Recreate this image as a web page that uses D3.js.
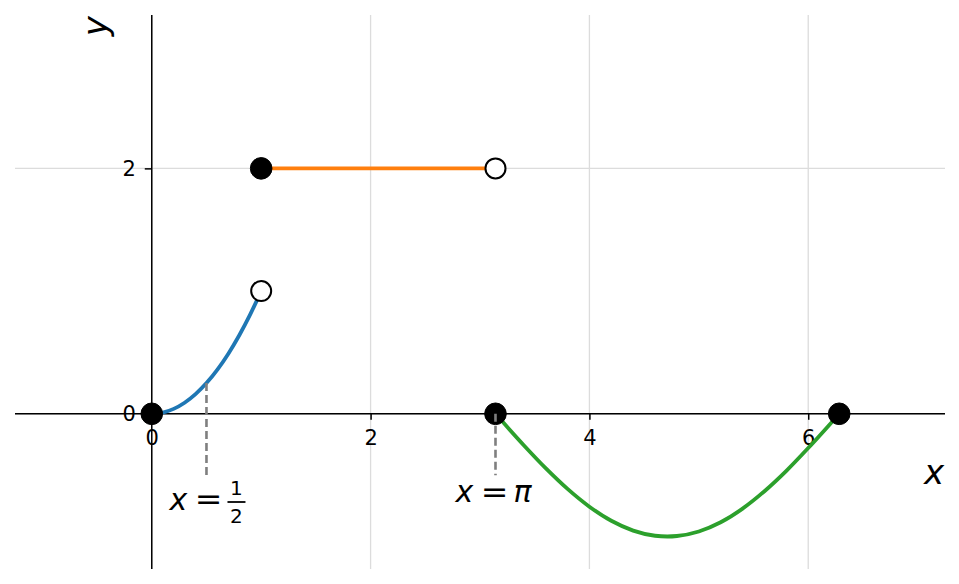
<!DOCTYPE html>
<html>
<head>
<meta charset="utf-8">
<script src="https://cdn.jsdelivr.net/npm/d3@7"></script>
<style>
  html, body { margin: 0; padding: 0; background: #fff; }
  svg { display: block; font-family: "DejaVu Sans", sans-serif; }
  .tick text { font-size: 21px; font-family: "DejaVu Sans", sans-serif; fill: #000; }
</style>
</head>
<body>
<svg id="chart" width="959" height="584"></svg>
<script>
// ---- data ----
const xTicks = [0, 2, 4, 6];
const yTicks = [0, 2];
const xDomain = [-1.25, 7.25];
const yDomain = [-1.265, 3.25];

// piece 1 (blue)
const blueX = [0, 0.1, 0.2, 0.3, 0.4, 0.5, 0.6, 0.7, 0.8, 0.9, 1.0];
const blueY = [0, 0.01, 0.04, 0.09, 0.16, 0.25, 0.36, 0.49, 0.64, 0.81, 1.0];
// piece 2 (orange)
const orangeX = [1, 3.1416];
const orangeY = [2, 2];
// piece 3 (green)
const greenX = [3.1416, 3.4, 3.6, 3.8, 4.0, 4.2, 4.4, 4.6, 4.712, 4.8, 5.0, 5.2, 5.4, 5.6, 5.8, 6.0, 6.2832];
const greenY = [0, -0.256, -0.443, -0.612, -0.757, -0.872, -0.952, -0.994, -1.0, -0.996, -0.959, -0.884, -0.773, -0.631, -0.465, -0.279, 0];

// markers
const filledX = [0, 1, 3.1416, 6.2832];
const filledY = [0, 2, 0, 0];
const openX = [1, 3.1416];
const openY = [1, 2];

// dashed guides: x, top y, bottom y
const guideX = [0.5, 3.1416];
const guideTop = [0.25, 0];
const guideBottom = [-0.5, -0.5];

// ---- drawing ----
const svg = d3.select("#chart");
const L = 15, R = 945, T = 15, B = 569;
const x = d3.scaleLinear().domain(xDomain).range([L, R]);
const y = d3.scaleLinear().domain(yDomain).range([B, T]);

const colors = { blue: "#1f77b4", orange: "#ff7f0e", green: "#2ca02c" };

// grid
const grid = svg.append("g");
grid.selectAll("line.gx").data(xTicks).join("line")
  .attr("x1", d => x(d)).attr("x2", d => x(d)).attr("y1", T).attr("y2", B)
  .attr("stroke", "#dcdcdc").attr("stroke-width", 1.3);
grid.selectAll("line.gy").data(yTicks).join("line")
  .attr("x1", L).attr("x2", R).attr("y1", d => y(d)).attr("y2", d => y(d))
  .attr("stroke", "#dcdcdc").attr("stroke-width", 1.3);

// axes through origin
const xAxis = d3.axisBottom(x).tickValues(xTicks).tickSize(6).tickPadding(10).tickFormat(d3.format("d"));
const yAxis = d3.axisLeft(y).tickValues(yTicks).tickSize(7).tickPadding(9).tickFormat(d3.format("d"));

const gx = svg.append("g").attr("transform", `translate(0,${y(0)})`).call(xAxis);
const gy = svg.append("g").attr("transform", `translate(${x(0)},0)`).call(yAxis);
[gx, gy].forEach(g => {
  g.attr("font-size", 21).attr("font-family", "DejaVu Sans, sans-serif");
  g.select(".domain").attr("stroke", "#000").attr("stroke-width", 1.5);
  g.selectAll(".tick line").attr("stroke", "#000").attr("stroke-width", 1.5);
  g.selectAll(".tick text").attr("fill", "#000").style("font-size", "21px");
});
gx.select(".domain").attr("d", `M${L},0H${R}`);
gy.select(".domain").attr("d", `M0,${T}V${B}`);

// curves
const line = d3.line().x(d => x(d[0])).y(d => y(d[1])).curve(d3.curveMonotoneX);
function drawCurve(xs, ys, c) {
  svg.append("path").datum(xs.map((v, i) => [v, ys[i]]))
    .attr("d", line).attr("fill", "none").attr("stroke", c)
    .attr("stroke-width", 3.8).attr("stroke-linecap", "butt");
}
drawCurve(blueX, blueY, colors.blue);
drawCurve(orangeX, orangeY, colors.orange);
drawCurve(greenX, greenY, colors.green);

// markers
svg.selectAll("circle.filled").data(filledX.map((v, i) => [v, filledY[i]])).join("circle")
  .attr("cx", d => x(d[0])).attr("cy", d => y(d[1])).attr("r", 10.8)
  .attr("fill", "#000").attr("stroke", "#000").attr("stroke-width", 1);
svg.selectAll("circle.open").data(openX.map((v, i) => [v, openY[i]])).join("circle")
  .attr("cx", d => x(d[0])).attr("cy", d => y(d[1])).attr("r", 10)
  .attr("fill", "#fff").attr("stroke", "#000").attr("stroke-width", 2);

// dashed guides
svg.selectAll("line.guide").data(guideX.map((v, i) => [v, guideTop[i], guideBottom[i]])).join("line")
  .attr("x1", d => x(d[0])).attr("x2", d => x(d[0]))
  .attr("y1", d => y(d[1])).attr("y2", d => y(d[2]))
  .attr("stroke", "#7f7f7f").attr("stroke-width", 2.6).attr("stroke-dasharray", "8,4");

// annotations
const fs = 30;
function eq(g, cx, base) {
  g.append("text").attr("x", cx).attr("y", base).attr("text-anchor", "middle")
    .attr("transform", `translate(${cx},0) scale(1.1,1) translate(${-cx},0)`).text("=");
}
// x = π
{
  const cx = x(guideX[1]), base = 502;
  const g = svg.append("g").attr("font-size", fs).attr("fill", "#000");
  g.append("text").attr("x", cx - 31).attr("y", base).attr("text-anchor", "middle").attr("font-style", "italic").text("x");
  eq(g, cx - 1, base);
  g.append("text").attr("x", cx + 27).attr("y", base).attr("text-anchor", "middle").attr("font-style", "italic").text("π");
}
// x = 1/2
{
  const cx = x(guideX[0]), base = 509.5;
  const g = svg.append("g").attr("font-size", fs).attr("fill", "#000");
  g.append("text").attr("x", cx - 28).attr("y", base).attr("text-anchor", "middle").attr("font-style", "italic").text("x");
  eq(g, cx + 2, base);
  g.append("text").attr("x", cx + 30).attr("y", 495).attr("text-anchor", "middle").attr("font-size", 20).text("1");
  g.append("line").attr("x1", cx + 21).attr("x2", cx + 39).attr("y1", 502).attr("y2", 502)
    .attr("stroke", "#000").attr("stroke-width", 1.8);
  g.append("text").attr("x", cx + 30).attr("y", 523).attr("text-anchor", "middle").attr("font-size", 20).text("2");
}

// axis labels
svg.append("text").attr("x", 944).attr("y", 484).attr("text-anchor", "end")
  .attr("font-size", 34).attr("font-style", "italic").text("x");
svg.append("text").attr("transform", "translate(107,16) rotate(-90)").attr("text-anchor", "end")
  .attr("font-size", 34).attr("font-style", "italic").text("y");
</script>
</body>
</html>
